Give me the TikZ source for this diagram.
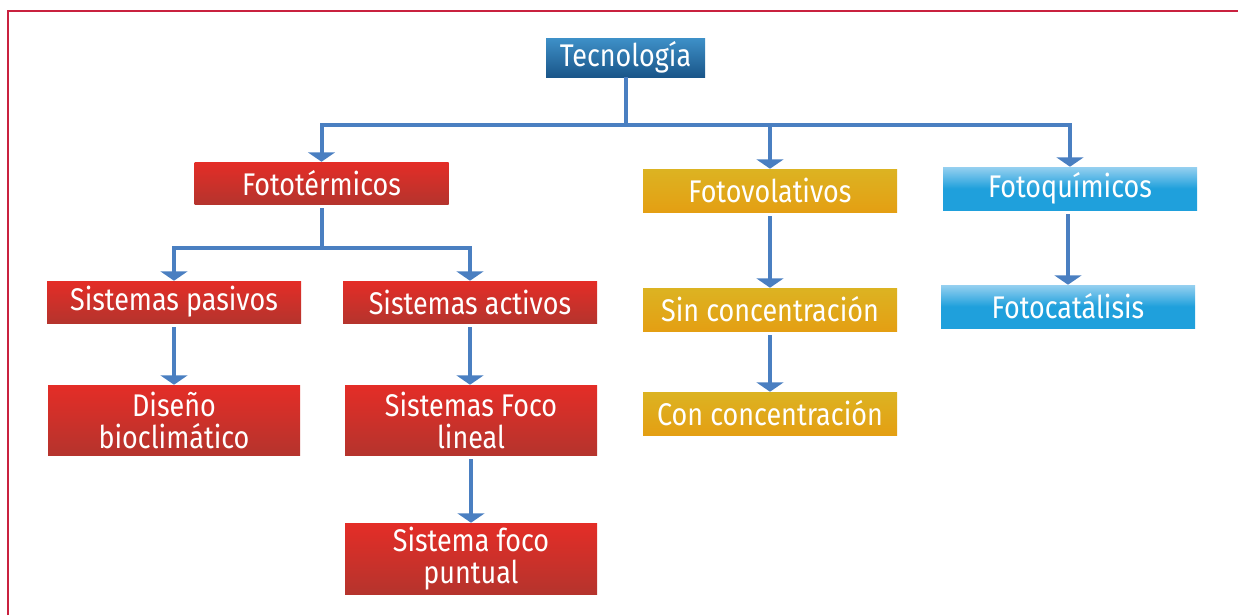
\documentclass[tikz,border=0pt]{standalone}
\usepackage{fontspec}
\setmainfont{Fira Sans}[FakeStretch=0.86]
\usetikzlibrary{arrows.meta}
\definecolor{frame}{HTML}{C9213F}
\definecolor{link}{HTML}{4A7FC1}
\definecolor{redT}{HTML}{E42D27}
\definecolor{redB}{HTML}{B5342D}
\definecolor{yelT}{HTML}{DCB322}
\definecolor{yelB}{HTML}{E49F13}
\definecolor{skyT}{HTML}{96D0F0}
\definecolor{skyB}{HTML}{1FA0DC}
\definecolor{navT}{HTML}{3E90C8}
\definecolor{navB}{HTML}{1A5689}
\tikzset{
  box/.style={inner sep=0pt, text=white, align=center,
    font=\fontsize{23.5}{24}\selectfont,
    minimum width={254*0.75pt}, minimum height={42*0.75pt}},
  redbox/.style={box, top color=redT, bottom color=redB},
  yelbox/.style={box, top color=yelT, bottom color=yelB},
  skybox/.style={box, top color=skyT, bottom color=skyB, middle color=skyB, shading angle=0},
  tall/.style={minimum height={70*0.75pt}},
  wire/.style={draw=link, line width=3pt},
  arr/.style={wire, -{Triangle[width=20pt,length=7pt]}, shorten <=3pt},
}
\begin{document}
\begin{tikzpicture}[x=0.75pt, y=-0.75pt]
\useasboundingbox (0,0) rectangle (1238,615);
\draw[frame, line width=1.6pt] (8,615) -- (8,11) -- (1238,11);

\node[box, minimum width={159*0.75pt}, minimum height={39*0.75pt}, top color=navT, bottom color=navB] (tec) at (625.5,57.5) {Tecnología};

\node[redbox] (ft) at (321.5,183) {Fototérmicos};
\node[yelbox, minimum height={43*0.75pt}] (fv) at (770,190.5) {Fotovolativos};
\node[skybox, minimum height={43*0.75pt}] (fq) at (1070,188.5) {Fotoquímicos};

\node[redbox] (sp) at (174,302) {Sistemas pasivos};
\node[redbox] (sa) at (470,302) {Sistemas activos};
\node[redbox, tall, minimum width={252*0.75pt}] (db) at (174,420) {Diseño\\bioclimático};
\node[redbox, tall, minimum width={252*0.75pt}] (sfl) at (471,420) {Sistemas Foco\\lineal};
\node[redbox, tall, minimum width={252*0.75pt}, minimum height={71*0.75pt}] (sfp) at (471,558.5) {Sistema foco\\puntual};

\node[yelbox, minimum height={43*0.75pt}] (sc) at (770,309.5) {Sin concentración};
\node[yelbox, minimum height={43*0.75pt}] (cc) at (770,413.5) {Con concentración};
\node[skybox, minimum height={43*0.75pt}] (fc) at (1068,306.5) {Fotocatálisis};

\coordinate (hub) at (tec.south |- 0,125);
\coordinate (hub2) at (ft.south |- 0,248);

\draw[wire] (tec.south) -- (hub);
\draw[arr, shorten <=0pt] (hub) -| (ft.north);
\draw[arr, shorten <=0pt] (hub) -| (fv.north);
\draw[arr, shorten <=0pt] (hub) -| (fq.north);

\draw[wire, shorten <=3pt] (ft.south) -- (hub2);
\draw[arr, shorten <=0pt] (hub2) -| (sp.north);
\draw[arr, shorten <=0pt] (hub2) -| (sa.north);

\draw[arr] (sp.south) -- (db.north);
\draw[arr] (sa.south) -- (sa.south |- sfl.north);
\draw[arr] (sfl.south) -- (sfp.north);
\draw[arr] (fv.south) -- (sc.north);
\draw[arr] (sc.south) -- (cc.north);
\draw[arr] (fq.south -| fc.north) -- (fc.north);
\end{tikzpicture}
\end{document}
